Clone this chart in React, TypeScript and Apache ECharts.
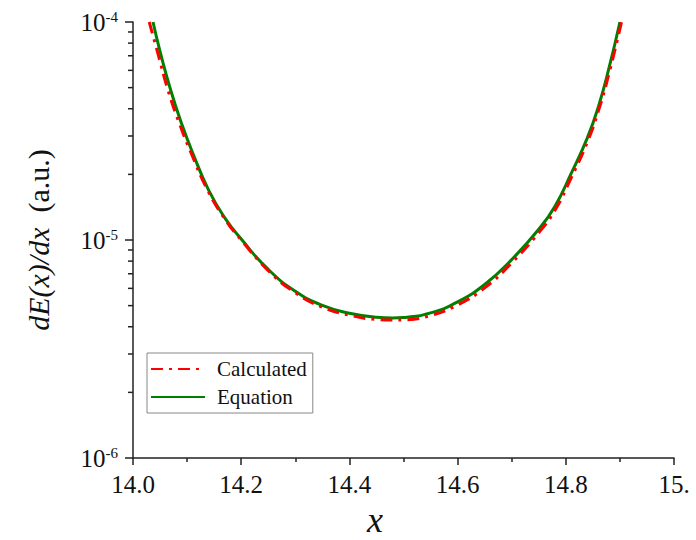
import React, { useEffect, useRef } from "react";
import * as echarts from "echarts";

const xEquation = [14.037, 14.05, 14.07, 14.09, 14.11, 14.14, 14.17, 14.2, 14.25, 14.3, 14.35, 14.4, 14.45, 14.48, 14.5, 14.55, 14.6, 14.65, 14.7, 14.75, 14.78, 14.81, 14.84, 14.86, 14.88, 14.9];
const yEquation = [1.0e-4, 7.33e-5, 4.84e-5, 3.41e-5, 2.52e-5, 1.69e-5, 1.26e-5, 1.01e-5, 7.33e-6, 5.82e-6, 5.01e-6, 4.61e-6, 4.42e-6, 4.39e-6, 4.41e-6, 4.63e-6, 5.2e-6, 6.25e-6, 8.13e-6, 1.12e-5, 1.43e-5, 2.02e-5, 2.95e-5, 4.07e-5, 6.17e-5, 1.0e-4];

const xCalculated = [14.03, 14.045, 14.065, 14.086, 14.107, 14.138, 14.17, 14.2, 14.25, 14.3, 14.35, 14.4, 14.45, 14.48, 14.5, 14.55, 14.6, 14.65, 14.7, 14.75, 14.78, 14.81, 14.84, 14.86, 14.88, 14.903];
const yCalculated = [1.0e-4, 7.33e-5, 4.84e-5, 3.41e-5, 2.52e-5, 1.69e-5, 1.245e-5, 1.0e-5, 7.24e-6, 5.73e-6, 4.92e-6, 4.52e-6, 4.32e-6, 4.29e-6, 4.3e-6, 4.5e-6, 5.04e-6, 6.03e-6, 7.85e-6, 1.08e-5, 1.37e-5, 1.93e-5, 2.82e-5, 3.89e-5, 5.82e-5, 1.0e-4];

const xTickLabels = ["14.0", "14.2", "14.4", "14.6", "14.8", "15."];
const yTickExponents = ["-6", "-5", "-4"];
const yMinorTicks = [2e-6, 3e-6, 4e-6, 5e-6, 6e-6, 7e-6, 8e-6, 9e-6, 2e-5, 3e-5, 4e-5, 5e-5, 6e-5, 7e-5, 8e-5, 9e-5];

const FONT = "Liberation Serif";
const AXIS_COLOR = "#222";
const TEXT_COLOR = "#111";

export default function App() {
  const ref = useRef<HTMLDivElement>(null);
  useEffect(() => {
    if (!ref.current) return;
    const chart = echarts.init(ref.current, undefined, { renderer: "svg" });
    chart.setOption({
      animation: false,
      backgroundColor: "#fff",
      textStyle: { fontFamily: FONT },
      grid: { left: 133, right: 22, top: 22, bottom: 82, containLabel: false },
      legend: {
        data: ["Calculated", "Equation"],
        orient: "vertical",
        left: 147,
        top: 353,
        itemWidth: 54,
        itemHeight: 14,
        itemGap: 6,
        padding: [5, 6, 5, 3],
        borderColor: "#888",
        borderWidth: 1,
        itemStyle: { opacity: 0 },
        textStyle: { fontFamily: FONT, fontSize: 21, color: TEXT_COLOR, lineHeight: 22, padding: [0, 0, 0, 7] },
      },
      xAxis: {
        type: "value",
        min: 14,
        max: 15,
        interval: 0.2,
        axisLine: { show: true, onZero: false, lineStyle: { color: AXIS_COLOR, width: 1.5 } },
        axisTick: { show: true, inside: false, length: 7, lineStyle: { color: AXIS_COLOR, width: 1.5 } },
        minorTick: { show: true, splitNumber: 2, length: 4, lineStyle: { color: AXIS_COLOR, width: 1.5 } },
        splitLine: { show: false },
        axisLabel: {
          fontFamily: FONT,
          fontSize: 25,
          color: TEXT_COLOR,
          margin: 14,
          formatter: (v: number) => xTickLabels[Math.round((v - 14) / 0.2)] ?? "",
        },
      },
      yAxis: {
        type: "log",
        logBase: 10,
        min: 1e-6,
        max: 1e-4,
        axisLine: { show: true, lineStyle: { color: AXIS_COLOR, width: 1.5 } },
        axisTick: { show: true, inside: false, length: 8, lineStyle: { color: AXIS_COLOR, width: 1.5 } },
        minorTick: { show: false },
        splitLine: { show: false },
        axisLabel: {
          margin: 15,
          fontFamily: FONT,
          formatter: (v: number) => {
            const e = yTickExponents[Math.round(Math.log10(v)) + 6] ?? "";
            return `{b|10}{s|${e}}`;
          },
          rich: {
            b: { fontFamily: FONT, fontSize: 25, color: TEXT_COLOR, lineHeight: 25 },
            s: { fontFamily: FONT, fontSize: 15, color: TEXT_COLOR, lineHeight: 14, verticalAlign: "top" },
          },
        },
      },
      graphic: [
        {
          type: "text",
          x: 38,
          y: 240,
          rotation: Math.PI / 2,
          style: {
            text: "{i|dE(x)/dx}  {r|(a.u.)}",
            align: "center",
            verticalAlign: "middle",
            fontFamily: FONT,
            fontSize: 30,
            fill: TEXT_COLOR,
            rich: {
              i: { fontFamily: FONT, fontSize: 30, fontStyle: "italic", fill: TEXT_COLOR },
              r: { fontFamily: FONT, fontSize: 30, fill: TEXT_COLOR },
            },
          },
        },
        {
          type: "text",
          x: 375,
          y: 520,
          style: {
            text: "x",
            fontFamily: FONT,
            fontSize: 36,
            fontStyle: "italic",
            fill: TEXT_COLOR,
            align: "center",
            verticalAlign: "middle",
          },
        },
      ],
      series: [
        {
          name: "Equation",
          type: "line",
          smooth: 0.5,
          symbol: "none",
          data: xEquation.map((x, i) => [x, yEquation[i]]),
          lineStyle: { color: "#008000", width: 3 },
          itemStyle: { color: "#008000" },
          z: 2,
        },
        {
          name: "Calculated",
          type: "line",
          smooth: 0.5,
          symbol: "none",
          data: xCalculated.map((x, i) => [x, yCalculated[i]]),
          lineStyle: { color: "#ff0000", width: 3, type: [12, 6, 3, 6] },
          itemStyle: { color: "#ff0000" },
          z: 3,
        },
        {
          name: "minorTicks",
          type: "custom",
          silent: true,
          clip: false,
          encode: { x: 0, y: 1 },
          data: yMinorTicks.map((v) => [14, v]),
          renderItem: (_params: any, api: any) => {
            const p = api.coord([api.value(0), api.value(1)]);
            return {
              type: "line",
              shape: { x1: p[0] - 5, y1: p[1], x2: p[0], y2: p[1] },
              style: { stroke: AXIS_COLOR, lineWidth: 1.5 },
            };
          },
          z: 5,
        },
      ],
    });
    return () => chart.dispose();
  }, []);
  return (
    <div
      ref={ref}
      style={{ position: "absolute", left: 0, top: 0, width: 696, height: 540 }}
    />
  );
}
